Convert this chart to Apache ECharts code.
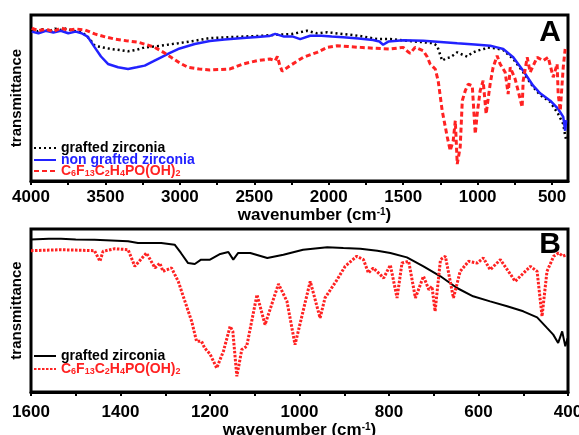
<!DOCTYPE html>
<html>
<head>
<meta charset="utf-8">
<script src="https://cdn.jsdelivr.net/npm/echarts@6/dist/echarts.min.js"></script>
<style>
  html, body { margin: 0; padding: 0; background: #fff; }
  #chart { width: 579px; height: 435px; }
</style>
</head>
<body>
<div id="chart"></div>
<script>
// panel A: full range spectra
const topTicks = [4000, 3750, 3500, 3250, 3000, 2750, 2500, 2250, 2000, 1750, 1500, 1250, 1000, 750, 500]
const topLabels = [4000, 3500, 3000, 2500, 2000, 1500, 1000, 500]

const graftedTopWn = [3995, 3960, 3920, 3880, 3840, 3800, 3760, 3720, 3680, 3650, 3610, 3572, 3520, 3462, 3400, 3348, 3290, 3236, 3180, 3126, 3012, 2900, 2799, 2700, 2575, 2450, 2347, 2250, 2146, 2080, 2010, 1900, 1800, 1675, 1587, 1480, 1365, 1300, 1272, 1238, 1210, 1184, 1160, 1137, 1100, 1070, 1040, 1003, 960, 936, 880, 828, 761, 694, 627, 580, 512, 459, 425, 412, 405]
const graftedTopT = [91, 90, 91.5, 90, 91.8, 91, 92, 90.5, 90, 89, 86, 81.5, 80.5, 79.5, 78.8, 78.1, 79, 80.5, 81, 81.5, 83, 84.5, 86.1, 86.5, 87, 87.5, 88.1, 88.5, 90.5, 89, 89.6, 88.5, 87.5, 85.5, 85.5, 84.5, 83.6, 83, 81.5, 72.5, 74, 74.5, 76, 77.5, 76, 74.9, 77, 78.5, 79.5, 80.5, 80, 78.9, 73.5, 65.5, 56.6, 51.8, 47.6, 40.4, 34.3, 27.3, 24.7]

const nonGraftedWn = [3995, 3950, 3900, 3850, 3800, 3750, 3700, 3660, 3620, 3572, 3530, 3483, 3415, 3348, 3290, 3236, 3180, 3126, 3070, 3012, 2900, 2799, 2700, 2575, 2480, 2400, 2360, 2300, 2240, 2192, 2125, 2050, 1980, 1903, 1800, 1702, 1660, 1635, 1600, 1587, 1500, 1365, 1250, 1137, 1020, 915, 870, 828, 761, 694, 627, 580, 512, 459, 425, 412, 405]
const nonGraftedT = [90, 89, 90.5, 89.5, 90.5, 89, 90, 89, 87, 80.5, 75, 70.5, 68.5, 67.5, 68.5, 69.5, 72, 74.5, 77, 79.5, 82.5, 84.3, 85.2, 86.1, 86.8, 87.3, 88.6, 87, 87, 85.5, 87.5, 87.5, 87, 86.6, 85.8, 84.9, 84, 82.1, 84, 84.6, 84.8, 84.5, 83.8, 83, 82.3, 81.5, 80.5, 79.5, 74.5, 66.4, 57.4, 52.8, 48.4, 43.4, 38.6, 30.3, 36.7]

const acidTopWn = [3995, 3950, 3900, 3850, 3800, 3750, 3700, 3637, 3572, 3500, 3437, 3360, 3281, 3220, 3169, 3110, 3059, 3000, 2945, 2870, 2799, 2663, 2575, 2481, 2394, 2360, 2345, 2330, 2313, 2260, 2172, 2078, 2011, 1944, 1870, 1789, 1700, 1587, 1500, 1470, 1453, 1420, 1366, 1340, 1319, 1285, 1265, 1238, 1204, 1184, 1164, 1150, 1137, 1117, 1103, 1083, 1063, 1036, 1016, 1003, 983, 963, 943, 916, 896, 869, 849, 815, 795, 781, 748, 728, 701, 694, 667, 647, 600, 560, 526, 492, 466, 459, 445, 425, 412]
const acidTopT = [92, 90.5, 91.5, 90, 92.2, 90.8, 91.6, 91, 88.6, 86.8, 85.5, 84.5, 83.6, 82, 80.5, 77.5, 74.5, 71, 68.5, 67.5, 66.9, 67.5, 70.5, 72.5, 73.5, 72.5, 75, 70, 66.1, 69.5, 74.5, 77.5, 80.5, 81.5, 81, 80.5, 80, 79.5, 80.5, 78, 76.9, 80.5, 78.5, 75, 70.5, 67.5, 60.4, 42.3, 26.5, 18.3, 24.3, 36.3, 10.2, 20.5, 48.4, 54.4, 58.4, 57.4, 28.3, 40.4, 54.4, 60.4, 40.4, 58.4, 68.5, 75.5, 70.5, 65.5, 52.4, 68.5, 61.4, 54.4, 44.4, 60.4, 74.5, 65.5, 74.5, 72.5, 74.5, 62.5, 70.5, 52.4, 42.3, 68.5, 79.5]

// panel B: fingerprint region
const bottomTicks = [1600, 1500, 1400, 1300, 1200, 1100, 1000, 900, 800, 700, 600, 500, 400]
const bottomLabels = [1600, 1400, 1200, 1000, 800, 600, 400]

const graftedBotWn = [1600, 1560, 1533, 1500, 1458, 1420, 1383, 1361, 1309, 1279, 1265, 1249, 1234, 1220, 1200, 1177, 1159, 1148, 1137, 1110, 1072, 1036, 992, 938, 902, 864, 826, 797, 760, 723, 685, 648, 612, 574, 536, 500, 469, 447, 433, 422, 413, 406, 401]
const graftedBotT = [93.6, 94, 94, 93.6, 93.4, 93, 92.5, 91.4, 91.4, 90.4, 85.3, 79.1, 78.5, 81.2, 81.2, 84.7, 85.9, 81.2, 85.3, 85.3, 82.2, 84.2, 87.3, 88.8, 88.3, 87.9, 86.7, 85.3, 82.6, 77.1, 71, 63.8, 58.7, 55.6, 52.6, 49.5, 45.8, 39.3, 35.2, 30.1, 37.2, 28, 33]

const acidBotWn = [1600, 1533, 1458, 1446, 1439, 1413, 1383, 1368, 1342, 1323, 1312, 1305, 1286, 1271, 1256, 1241, 1230, 1219, 1212, 1200, 1185, 1170, 1155, 1149, 1140, 1129, 1118, 1095, 1077, 1047, 1028, 1010, 976, 954, 943, 916, 898, 872, 857, 846, 835, 812, 797, 782, 771, 756, 741, 723, 711, 704, 697, 685, 674, 656, 641, 622, 603, 589, 574, 551, 518, 484, 469, 458, 447, 432, 421, 411, 404]
const acidBotT = [86.7, 87.3, 86.7, 80.2, 86.3, 87.9, 87.3, 77.1, 85.3, 76.1, 79.1, 74, 76.1, 67.9, 55.6, 43.4, 31.1, 31.1, 27, 23.3, 14.7, 25, 40.3, 37.2, 9.6, 26, 28, 59.7, 41.3, 66.3, 55.6, 29, 67.9, 45.4, 57.7, 68.9, 77.1, 83.3, 81.2, 73, 76.1, 69.9, 77.9, 57.7, 79.1, 80.2, 57.7, 71, 62.8, 64.8, 49.5, 81.2, 83.3, 57.7, 74, 80.2, 79.1, 82.2, 75, 81.2, 67.9, 77.1, 74, 46.4, 74, 83.3, 85.3, 83.3, 84.2]

const BLUE = '#2222ff'
const RED = '#ff2222'
const FONT = '"Liberation Sans", Arial, sans-serif'
const acidLabel = '{n|C}{s|6}{n|F}{s|13}{n|C}{s|2}{n|H}{s|4}{n|PO(OH)}{s|2}'

const zip = (wn, t) => wn.map((w, i) => [w, t[i]])

function xAxisFor(gridIndex, min, max, ticks, labels, margin, nameGap, namePad) {
    return {
        type: 'value', gridIndex: gridIndex, inverse: true, min: min, max: max,
        splitLine: { show: false },
        axisLine: { show: true, lineStyle: { color: '#000', width: 3 } },
        axisTick: { show: true, inside: false, length: 4, customValues: ticks, lineStyle: { color: '#000', width: 2 } },
        axisLabel: {
            customValues: labels, margin: margin, color: '#000', fontSize: 17, fontWeight: 'bold', fontFamily: FONT,
            formatter: (v) => String(v)
        },
        name: '{a|wavenumber (cm}{s|-1}{a|)}',
        nameLocation: 'middle',
        nameGap: nameGap,
        nameTextStyle: {
            padding: namePad,
            rich: {
                a: { fontSize: 17, fontWeight: 'bold', color: '#000', fontFamily: FONT },
                s: { fontSize: 10, fontWeight: 'bold', color: '#000', fontFamily: FONT, verticalAlign: 'top' }
            }
        }
    }
}

function yAxisFor(gridIndex) {
    return {
        type: 'value', gridIndex: gridIndex, min: 0, max: 100,
        axisLine: { show: false }, axisTick: { show: false }, axisLabel: { show: false },
        splitLine: { show: false },
        name: 'transmittance', nameLocation: 'middle', nameGap: 7,
        nameTextStyle: { fontSize: 15, fontWeight: 'bold', color: '#000', fontFamily: FONT }
    }
}

function legendFor(name, label, color, left, top, rich) {
    return {
        data: [name], left: left, top: top, padding: 0,
        itemWidth: 22, itemHeight: 10, itemGap: 2,
        itemStyle: { opacity: 0 },
        formatter: () => label,
        textStyle: { color: color, fontSize: 14, fontWeight: 'bold', fontFamily: FONT, rich: rich }
    }
}

const acidRich = {
    n: { color: RED, fontSize: 14, fontWeight: 'bold', fontFamily: FONT },
    s: { color: RED, fontSize: 9, fontWeight: 'bold', fontFamily: FONT, verticalAlign: 'bottom' }
}

let chart = echarts.init(document.getElementById('chart'), null, { renderer: 'canvas' })

let options = {
    animation: false,
    backgroundColor: '#fff',
    grid: [
        { left: 31, top: 15, width: 537, height: 166, show: true, borderColor: '#000', borderWidth: 3, outerBoundsMode: 'none' },
        { left: 31, top: 229, width: 537, height: 163, show: true, borderColor: '#000', borderWidth: 3, outerBoundsMode: 'none' }
    ],
    xAxis: [
        xAxisFor(0, 393, 4000, topTicks, topLabels, 8, 21, [0, 0, 0, 30]),
        xAxisFor(1, 400, 1600, bottomTicks, bottomLabels, 12, 27, [0, 0, 0, 0])
    ],
    yAxis: [yAxisFor(0), yAxisFor(1)],
    legend: [
        legendFor('graftedA', 'grafted zirconia', '#000', 33, 141),
        legendFor('nonGraftedA', 'non grafted zirconia', BLUE, 33, 153),
        legendFor('acidA', acidLabel, RED, 33, 164, acidRich),
        legendFor('graftedB', 'grafted zirconia', '#000', 33, 349),
        legendFor('acidB', acidLabel, RED, 33, 362, acidRich)
    ],
    graphic: [
        { type: 'text', x: 550, y: 33, style: { text: 'A', fontSize: 30, fontWeight: 'bold', fontFamily: FONT, fill: '#000', align: 'center', verticalAlign: 'middle' } },
        { type: 'text', x: 550, y: 245, style: { text: 'B', fontSize: 30, fontWeight: 'bold', fontFamily: FONT, fill: '#000', align: 'center', verticalAlign: 'middle' } }
    ],
    series: [
        {
            name: 'graftedA', type: 'line', xAxisIndex: 0, yAxisIndex: 0, showSymbol: false, symbol: 'none',
            data: zip(graftedTopWn, graftedTopT),
            lineStyle: { color: '#000', width: 2.5, type: [2, 3] }, itemStyle: { color: '#000' }
        },
        {
            name: 'nonGraftedA', type: 'line', xAxisIndex: 0, yAxisIndex: 0, showSymbol: false, symbol: 'none',
            data: zip(nonGraftedWn, nonGraftedT),
            lineStyle: { color: BLUE, width: 2.5 }, itemStyle: { color: BLUE }
        },
        {
            name: 'acidA', type: 'line', xAxisIndex: 0, yAxisIndex: 0, showSymbol: false, symbol: 'none',
            data: zip(acidTopWn, acidTopT),
            lineStyle: { color: RED, width: 3, type: [5, 3] }, itemStyle: { color: RED }
        },
        {
            name: 'graftedB', type: 'line', xAxisIndex: 1, yAxisIndex: 1, showSymbol: false, symbol: 'none',
            data: zip(graftedBotWn, graftedBotT),
            lineStyle: { color: '#000', width: 2 }, itemStyle: { color: '#000' }
        },
        {
            name: 'acidB', type: 'line', xAxisIndex: 1, yAxisIndex: 1, showSymbol: false, symbol: 'none',
            data: zip(acidBotWn, acidBotT),
            lineStyle: { color: RED, width: 3, type: [2.5, 1.5] }, itemStyle: { color: RED }
        }
    ]
}
options && chart.setOption(options)
</script>
</body>
</html>
